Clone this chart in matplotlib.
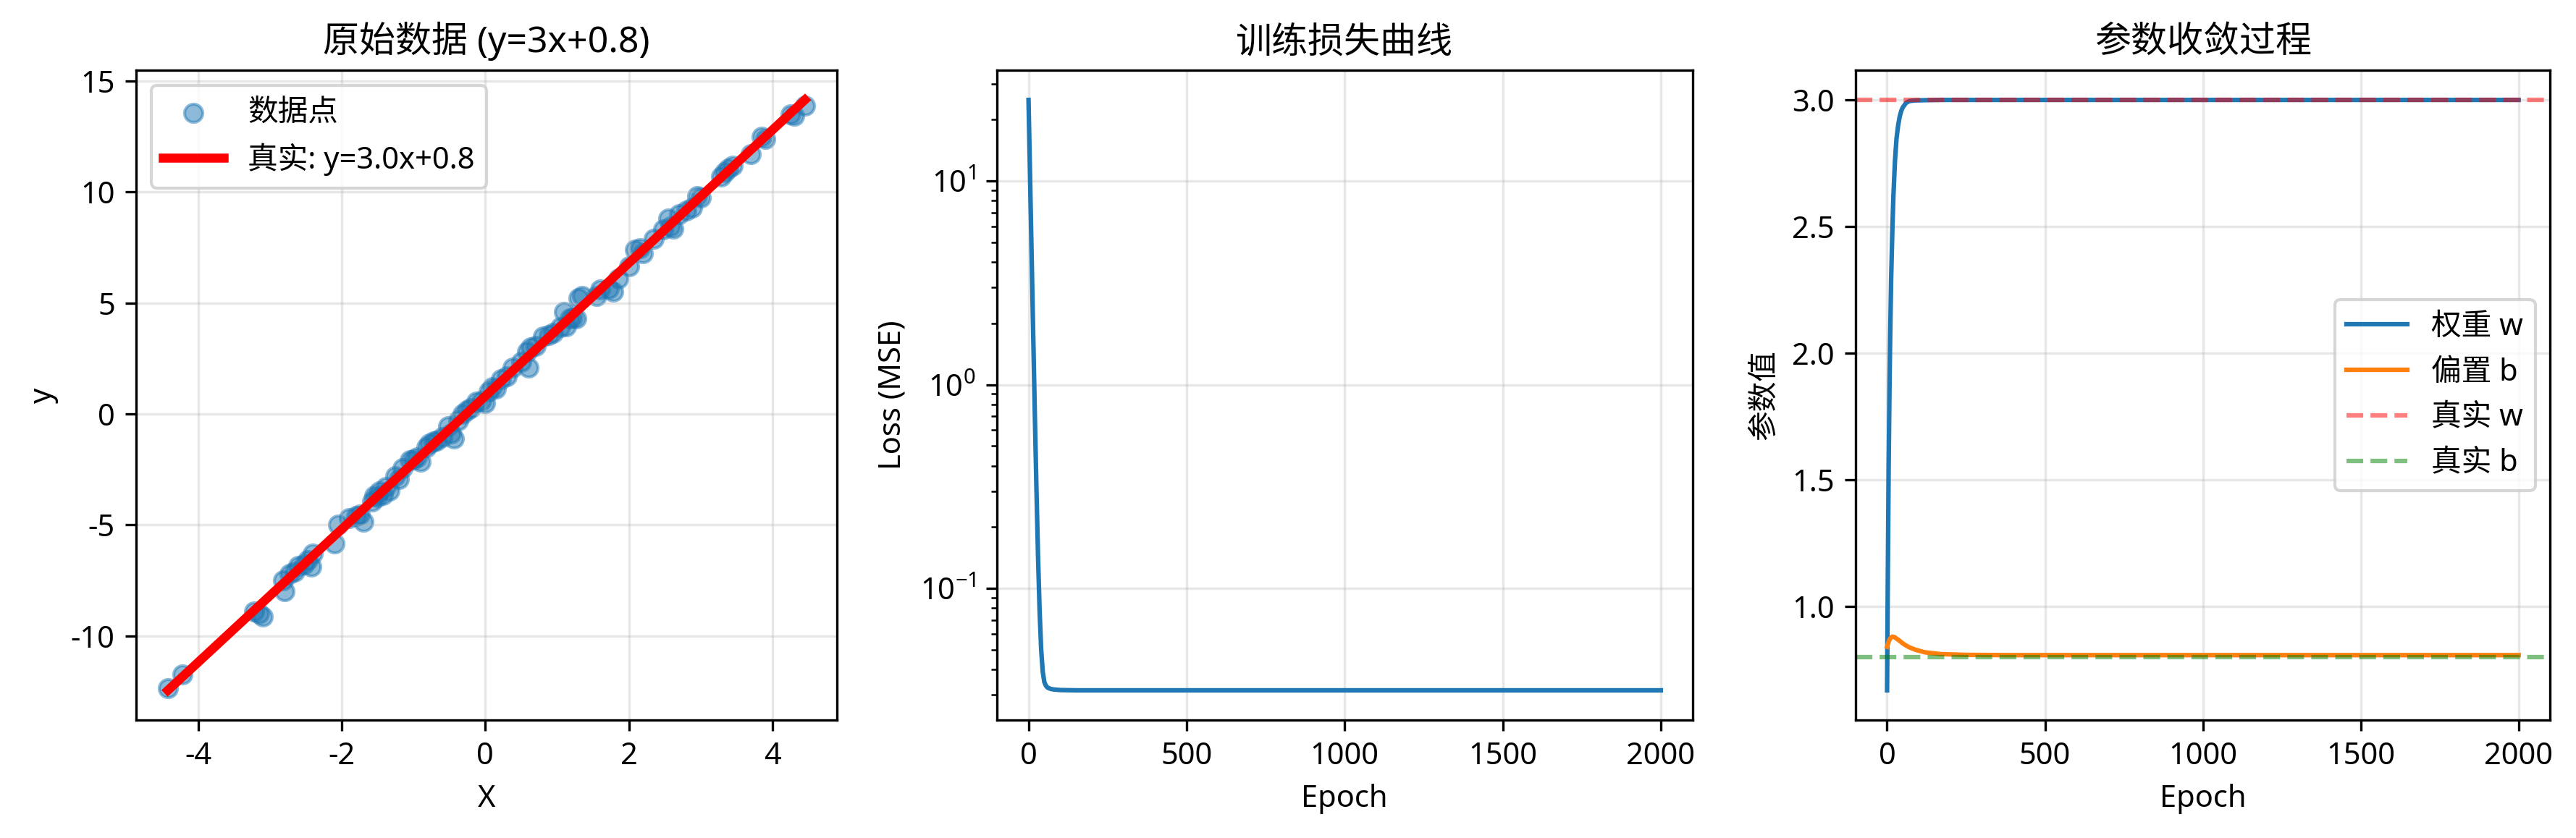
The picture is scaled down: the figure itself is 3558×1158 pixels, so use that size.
import matplotlib.pyplot as plt

plt.rcParams['font.family'] = ['Noto Sans', 'Noto Sans CJK SC', 'DejaVu Sans']
plt.rcParams['axes.unicode_minus'] = False

# scattered sample points
x_data = [-4.42, -4.22, -3.22, -3.15, -3.1, -2.82, -2.8, -2.72, -2.65, -2.6,
          -2.52, -2.47, -2.42, -2.4, -2.1, -2.05, -1.9, -1.8, -1.75, -1.7,
          -1.58, -1.55, -1.5, -1.47, -1.42, -1.38, -1.33, -1.25, -1.2, -1.15,
          -1.05, -1.0, -0.95, -0.9, -0.82, -0.78, -0.72, -0.68, -0.6, -0.52,
          -0.48, -0.44, -0.38, -0.32, -0.25, -0.2, -0.12, -0.05, 0.0, 0.05,
          0.1, 0.15, 0.22, 0.3, 0.38, 0.5, 0.58, 0.6, 0.63, 0.7,
          0.8, 0.88, 0.95, 1.05, 1.1, 1.13, 1.18, 1.22, 1.27, 1.3,
          1.35, 1.55, 1.6, 1.72, 1.78, 1.85, 2.0, 2.08, 2.15, 2.2,
          2.35, 2.48, 2.55, 2.58, 2.62, 2.7, 2.8, 2.88, 2.95, 3.0,
          3.28, 3.33, 3.38, 3.45, 3.7, 3.85, 3.9, 4.25, 4.3, 4.45]
y_data = [-12.35, -11.75, -8.9, -9.0, -9.15, -7.5, -8.0, -7.2, -7.1, -6.85,
          -6.8, -6.6, -6.9, -6.3, -5.85, -5.0, -4.7, -4.6, -4.55, -4.85,
          -3.95, -3.7, -3.75, -3.5, -3.65, -3.3, -3.45, -2.8, -2.95, -2.45,
          -2.1, -2.05, -1.95, -2.15, -1.5, -1.35, -1.25, -1.2, -1.05, -0.55,
          -0.9, -1.1, -0.3, 0.0, 0.15, 0.25, 0.55, 0.6, 0.5, 1.0,
          1.2, 1.15, 1.55, 1.7, 2.1, 2.35, 2.8, 2.1, 3.0, 3.05,
          3.5, 3.55, 3.65, 3.9, 4.6, 3.95, 4.3, 4.35, 4.3, 5.2,
          5.3, 5.3, 5.6, 5.65, 5.5, 6.1, 6.65, 7.4, 7.45, 7.25,
          7.9, 8.3, 8.8, 8.45, 8.35, 9.0, 9.15, 9.3, 9.8, 9.75,
          10.7, 10.9, 11.05, 11.2, 11.7, 12.5, 12.4, 13.5, 13.45, 13.9]

true_w = 3.0
true_b = 0.8
line_x = [-4.42, 4.45]
line_y = [true_w * v + true_b for v in line_x]

loss_epochs = [0, 5, 10, 15, 20, 25, 30, 35, 40, 45, 50, 55, 60, 70, 80,
               100, 150, 200, 500, 1000, 1500, 2000]
loss_vals = [25.0, 10.2, 4.16, 1.71, 0.71, 0.31, 0.145, 0.078, 0.050, 0.039,
             0.0347, 0.0333, 0.0326, 0.0321, 0.0319, 0.0317, 0.0316, 0.0316,
             0.0316, 0.0316, 0.0316, 0.0316]

param_epochs = [0, 2, 5, 8, 10, 13, 17, 20, 25, 30, 35, 40, 45, 50, 60, 70,
                80, 90, 120, 170, 250, 400, 1000, 2000]
w_hist = [0.67, 1.05, 1.55, 1.90, 2.08, 2.30, 2.50, 2.62, 2.76, 2.85, 2.90,
          2.935, 2.958, 2.972, 2.989, 2.996, 2.998, 2.999, 3.0, 3.001, 3.001,
          3.001, 3.001, 3.001]
b_hist = [0.842, 0.85, 0.862, 0.871, 0.875, 0.879, 0.882, 0.881, 0.879,
          0.874, 0.870, 0.865, 0.860, 0.855, 0.847, 0.840, 0.835, 0.830,
          0.820, 0.813, 0.810, 0.809, 0.809, 0.809]

fig = plt.figure(figsize=(11.86, 3.86), dpi=300)
ax1 = fig.add_axes([0.0528, 0.141, 0.2720, 0.775])
ax2 = fig.add_axes([0.3870, 0.141, 0.2700, 0.775])
ax3 = fig.add_axes([0.7203, 0.141, 0.2697, 0.775])

# raw data
ax1.scatter(x_data, y_data, alpha=0.5, label='数据点')
ax1.plot(line_x, line_y, 'r-', linewidth=3, label='真实: y=3.0x+0.8')
ax1.set_title('原始数据 (y=3x+0.8)')
ax1.set_xlabel('X')
ax1.set_ylabel('y')
ax1.legend(loc='upper left')
ax1.grid(True, alpha=0.3)

# loss curve
ax2.plot(loss_epochs, loss_vals)
ax2.set_yscale('log')
ax2.set_title('训练损失曲线')
ax2.set_xlabel('Epoch')
ax2.set_ylabel('Loss (MSE)')
ax2.grid(True, alpha=0.3)

# parameters
ax3.plot(param_epochs, w_hist, label='权重 w')
ax3.plot(param_epochs, b_hist, label='偏置 b')
ax3.axhline(y=true_w, color='r', linestyle='--', alpha=0.5, label='真实 w')
ax3.axhline(y=true_b, color='g', linestyle='--', alpha=0.5, label='真实 b')
ax3.set_title('参数收敛过程')
ax3.set_xlabel('Epoch')
ax3.set_ylabel('参数值')
ax3.legend(loc='center right')
ax3.grid(True, alpha=0.3)

plt.savefig('out.png', dpi=300)
